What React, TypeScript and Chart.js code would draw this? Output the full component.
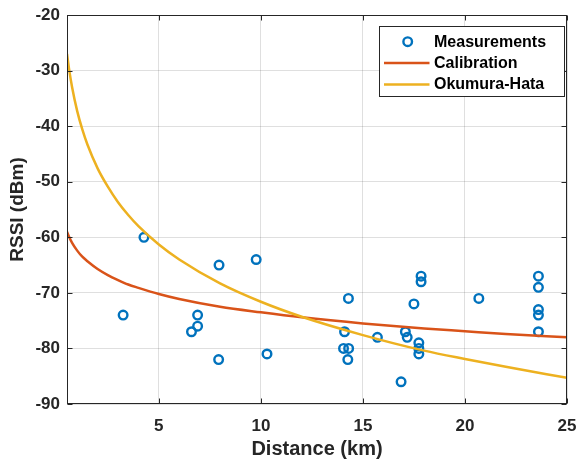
import React, { useEffect, useRef } from "react";
import { Chart, registerables } from "chart.js";

Chart.register(...registerables);

// Measurement points (distance km, RSSI dBm)
const measDist = [3.25, 4.27, 6.6, 6.9, 6.9, 7.95, 7.93, 9.77, 10.3, 14.1, 14.05, 14.3, 14.26, 14.29, 15.71, 16.87, 17.08, 17.17, 17.5, 17.74, 17.74, 17.74, 17.85, 17.85, 20.68, 23.6, 23.6, 23.6, 23.6, 23.6];
const measRssi = [-74, -60, -77, -76, -74, -65, -82, -64, -81, -77, -80, -80, -82, -71, -78, -86, -77, -78, -72, -79, -80, -81, -67, -68, -71, -67, -69, -73, -74, -77];

// Model curves sampled at distances
const curveDist = [0.5, 0.6, 0.75, 1, 1.25, 1.5, 2, 2.5, 3, 3.5, 4, 5, 6, 8, 10, 12, 15, 18, 20, 22, 25];
const calibRssi = [-59.0, -59.9, -61.0, -62.4, -63.5, -64.3, -65.7, -66.8, -67.7, -68.5, -69.1, -70.2, -71.1, -72.5, -73.5, -74.4, -75.5, -76.4, -76.9, -77.4, -78.0];
const hataRssi = [-27.0, -29.7, -33.0, -37.3, -40.6, -43.3, -47.6, -50.9, -53.7, -56.0, -58.0, -61.3, -64.0, -68.3, -71.6, -74.3, -77.6, -80.4, -81.9, -83.3, -85.3];

const xTicks = [5, 10, 15, 20, 25];
const yTicks = [-90, -80, -70, -60, -50, -40, -30, -20];

const BLUE = "#0072BD";
const RED = "#D95319";
const YELLOW = "#EDB120";
const AXIS = "#262626";
const FONT = "'Liberation Sans', Arial, Helvetica, sans-serif";

const framePlugin = {
  id: "frame",
  afterDatasetsDraw(chart: any) {
    const { ctx, chartArea } = chart;
    const L = Math.round(chartArea.left) + 0.5;
    const R = Math.round(chartArea.right) - 0.5;
    const T = Math.round(chartArea.top) + 0.5;
    const B = Math.round(chartArea.bottom) - 0.5;
    ctx.save();
    ctx.strokeStyle = AXIS;
    ctx.lineWidth = 1;
    ctx.strokeRect(L, T, R - L, B - T);
    const xs = chart.scales.x;
    const ys = chart.scales.y;
    const tl = 5;
    ctx.beginPath();
    xTicks.forEach((v) => {
      const px = Math.round(xs.getPixelForValue(v)) + 0.5;
      ctx.moveTo(px, B);
      ctx.lineTo(px, B - tl);
      ctx.moveTo(px, T);
      ctx.lineTo(px, T + tl);
    });
    yTicks.forEach((v) => {
      const py = Math.round(ys.getPixelForValue(v)) + 0.5;
      ctx.moveTo(L, py);
      ctx.lineTo(L + tl, py);
      ctx.moveTo(R, py);
      ctx.lineTo(R - tl, py);
    });
    ctx.stroke();

    // Legend
    const bx = 379.5, by = 26.5, bw = 185, bh = 70;
    ctx.fillStyle = "#ffffff";
    ctx.fillRect(bx, by, bw, bh);
    ctx.strokeStyle = AXIS;
    ctx.strokeRect(bx, by, bw, bh);
    const rows = [
      { label: "Measurements", y: 41.7, kind: "pt", color: BLUE },
      { label: "Calibration", y: 63, kind: "line", color: RED },
      { label: "Okumura-Hata", y: 84.5, kind: "line", color: YELLOW },
    ];
    rows.forEach((r) => {
      if (r.kind === "pt") {
        ctx.beginPath();
        ctx.arc(407.7, r.y, 4.3, 0, Math.PI * 2);
        ctx.strokeStyle = r.color;
        ctx.lineWidth = 2.4;
        ctx.stroke();
      } else {
        ctx.beginPath();
        ctx.moveTo(384, r.y);
        ctx.lineTo(429.5, r.y);
        ctx.strokeStyle = r.color;
        ctx.lineWidth = 2.4;
        ctx.stroke();
      }
      ctx.fillStyle = "#000000";
      ctx.font = `bold 16px ${FONT}`;
      ctx.textAlign = "left";
      ctx.textBaseline = "middle";
      ctx.fillText(r.label, 434, r.y + 0.5);
    });
    ctx.restore();
  },
};

export default function App() {
  const ref = useRef<HTMLCanvasElement>(null);
  useEffect(() => {
    const canvas = ref.current!;
    const chart = new Chart(canvas, {
      type: "scatter",
      data: {
        datasets: [
          {
            label: "Measurements",
            data: measDist.map((x, i) => ({ x, y: measRssi[i] })),
            showLine: false,
            pointRadius: 4.3,
            pointBorderWidth: 2.4,
            borderColor: BLUE,
            backgroundColor: "rgba(0,0,0,0)",
            pointBackgroundColor: "rgba(0,0,0,0)",
            order: 2,
          },
          {
            label: "Calibration",
            data: curveDist.map((x, i) => ({ x, y: calibRssi[i] })),
            showLine: true,
            pointRadius: 0,
            borderColor: RED,
            borderWidth: 2.5,
            cubicInterpolationMode: "monotone",
            order: 1,
          },
          {
            label: "Okumura-Hata",
            data: curveDist.map((x, i) => ({ x, y: hataRssi[i] })),
            showLine: true,
            pointRadius: 0,
            borderColor: YELLOW,
            borderWidth: 2.5,
            cubicInterpolationMode: "monotone",
            order: 0,
          },
        ] as any,
      },
      options: {
        animation: false,
        responsive: false,
        devicePixelRatio: 1,
        layout: { padding: { top: 15, right: 12, left: 0, bottom: 0 } },
        plugins: { legend: { display: false }, tooltip: { enabled: false } },
        scales: {
          x: {
            type: "linear",
            min: 0.5,
            max: 25,
            afterBuildTicks: (s: any) => {
              s.ticks = xTicks.map((v) => ({ value: v }));
            },
            afterFit: (s: any) => {
              s.height = 58;
              s.paddingLeft = 0;
              s.paddingRight = 0;
            },
            grid: { color: "rgba(38,38,38,0.15)", drawTicks: false },
            border: { display: false },
            ticks: {
              padding: 12,
              color: AXIS,
              font: { family: FONT, size: 17, weight: "bold" },
            },
            title: {
              display: true,
              text: "Distance (km)",
              color: AXIS,
              padding: { top: 0, bottom: 1 },
              font: { family: FONT, size: 20, weight: "bold" },
            },
          },
          y: {
            type: "linear",
            min: -90,
            max: -20,
            afterBuildTicks: (s: any) => {
              s.ticks = yTicks.map((v) => ({ value: v }));
            },
            afterFit: (s: any) => {
              s.width = 67;
              s.paddingTop = 0;
              s.paddingBottom = 0;
            },
            grid: { color: "rgba(38,38,38,0.15)", drawTicks: false },
            border: { display: false },
            ticks: {
              padding: 7,
              color: AXIS,
              font: { family: FONT, size: 17, weight: "bold" },
            },
            title: {
              display: true,
              text: "RSSI (dBm)",
              color: AXIS,
              padding: { top: 6, bottom: 0 },
              font: { family: FONT, size: 19, weight: "bold" },
            },
          },
        },
      } as any,
      plugins: [framePlugin],
    });
    return () => chart.destroy();
  }, []);
  return (
    <div style={{ position: "absolute", left: 0, top: 0, width: 579, height: 462, background: "#fff" }}>
      <canvas ref={ref} width={579} height={462} style={{ width: 579, height: 462, display: "block" }} />
    </div>
  );
}
